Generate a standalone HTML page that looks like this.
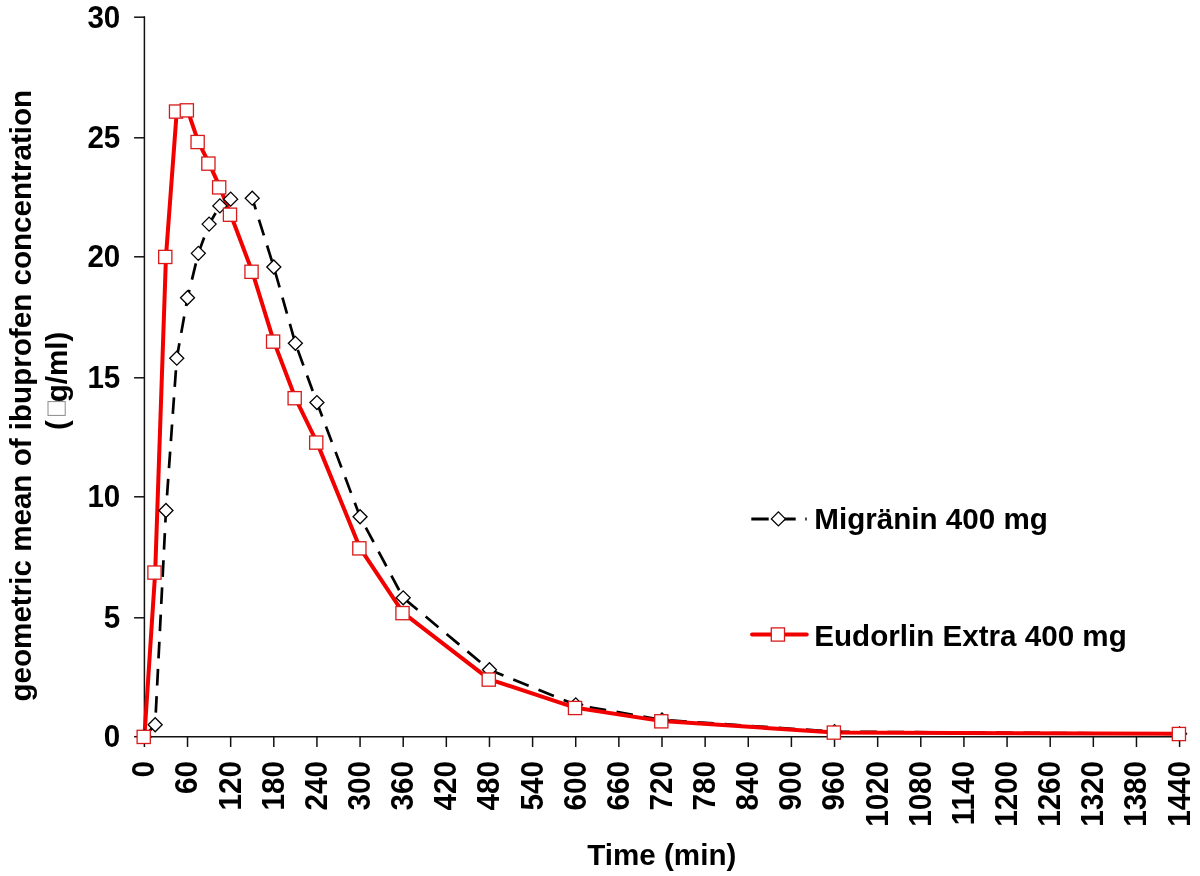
<!DOCTYPE html>
<html lang="en">
<head>
<meta charset="utf-8">
<title>Ibuprofen concentration chart</title>
<style>
html,body{margin:0;padding:0;background:#fff;}
body{width:1200px;height:876px;overflow:hidden;}
svg{display:block;}
text{font-family:"Liberation Sans",Arial,Helvetica,sans-serif;font-weight:bold;font-size:29.6px;fill:#000;}
</style>
</head>
<body>
<svg width="1200" height="876" viewBox="0 0 1200 876">
<rect x="0" y="0" width="1200" height="876" fill="#ffffff"/>

<g stroke="#111" stroke-width="1.5" fill="none">
<line x1="144.4" y1="16.35" x2="144.4" y2="737.45"/>
<line x1="143.65" y1="736.7" x2="1180.35" y2="736.7"/>
<line x1="134.1" y1="736.70" x2="144.4" y2="736.70"/>
<line x1="134.1" y1="617.80" x2="144.4" y2="617.80"/>
<line x1="134.1" y1="496.80" x2="144.4" y2="496.80"/>
<line x1="134.1" y1="377.80" x2="144.4" y2="377.80"/>
<line x1="134.1" y1="256.80" x2="144.4" y2="256.80"/>
<line x1="134.1" y1="137.80" x2="144.4" y2="137.80"/>
<line x1="134.1" y1="17.20" x2="144.4" y2="17.20"/>
<line x1="144.40" y1="736.7" x2="144.40" y2="747.0"/>
<line x1="187.53" y1="736.7" x2="187.53" y2="747.0"/>
<line x1="230.67" y1="736.7" x2="230.67" y2="747.0"/>
<line x1="273.80" y1="736.7" x2="273.80" y2="747.0"/>
<line x1="316.93" y1="736.7" x2="316.93" y2="747.0"/>
<line x1="360.07" y1="736.7" x2="360.07" y2="747.0"/>
<line x1="403.20" y1="736.7" x2="403.20" y2="747.0"/>
<line x1="446.33" y1="736.7" x2="446.33" y2="747.0"/>
<line x1="489.47" y1="736.7" x2="489.47" y2="747.0"/>
<line x1="532.60" y1="736.7" x2="532.60" y2="747.0"/>
<line x1="575.73" y1="736.7" x2="575.73" y2="747.0"/>
<line x1="618.87" y1="736.7" x2="618.87" y2="747.0"/>
<line x1="662.00" y1="736.7" x2="662.00" y2="747.0"/>
<line x1="705.13" y1="736.7" x2="705.13" y2="747.0"/>
<line x1="748.27" y1="736.7" x2="748.27" y2="747.0"/>
<line x1="791.40" y1="736.7" x2="791.40" y2="747.0"/>
<line x1="834.53" y1="736.7" x2="834.53" y2="747.0"/>
<line x1="877.67" y1="736.7" x2="877.67" y2="747.0"/>
<line x1="920.80" y1="736.7" x2="920.80" y2="747.0"/>
<line x1="963.93" y1="736.7" x2="963.93" y2="747.0"/>
<line x1="1007.07" y1="736.7" x2="1007.07" y2="747.0"/>
<line x1="1050.20" y1="736.7" x2="1050.20" y2="747.0"/>
<line x1="1093.33" y1="736.7" x2="1093.33" y2="747.0"/>
<line x1="1136.47" y1="736.7" x2="1136.47" y2="747.0"/>
<line x1="1179.60" y1="736.7" x2="1179.60" y2="747.0"/>
</g>
<g text-anchor="end">
<text transform="translate(120.3,747.10) scale(1,1.04)">0</text>
<text transform="translate(120.3,628.20) scale(1,1.04)">5</text>
<text transform="translate(120.3,507.20) scale(1,1.04)">10</text>
<text transform="translate(120.3,388.20) scale(1,1.04)">15</text>
<text transform="translate(120.3,267.20) scale(1,1.04)">20</text>
<text transform="translate(120.3,148.20) scale(1,1.04)">25</text>
<text transform="translate(120.3,27.60) scale(1,1.04)">30</text>
</g>
<g text-anchor="end">
<text transform="translate(154.30,761) rotate(-90) scale(1,1.04)">0</text>
<text transform="translate(197.43,761) rotate(-90) scale(1,1.04)">60</text>
<text transform="translate(240.57,761) rotate(-90) scale(1,1.04)">120</text>
<text transform="translate(283.70,761) rotate(-90) scale(1,1.04)">180</text>
<text transform="translate(326.83,761) rotate(-90) scale(1,1.04)">240</text>
<text transform="translate(369.97,761) rotate(-90) scale(1,1.04)">300</text>
<text transform="translate(413.10,761) rotate(-90) scale(1,1.04)">360</text>
<text transform="translate(456.23,761) rotate(-90) scale(1,1.04)">420</text>
<text transform="translate(499.37,761) rotate(-90) scale(1,1.04)">480</text>
<text transform="translate(542.50,761) rotate(-90) scale(1,1.04)">540</text>
<text transform="translate(585.63,761) rotate(-90) scale(1,1.04)">600</text>
<text transform="translate(628.77,761) rotate(-90) scale(1,1.04)">660</text>
<text transform="translate(671.90,761) rotate(-90) scale(1,1.04)">720</text>
<text transform="translate(715.03,761) rotate(-90) scale(1,1.04)">780</text>
<text transform="translate(758.17,761) rotate(-90) scale(1,1.04)">840</text>
<text transform="translate(801.30,761) rotate(-90) scale(1,1.04)">900</text>
<text transform="translate(844.43,761) rotate(-90) scale(1,1.04)">960</text>
<text transform="translate(887.57,761) rotate(-90) scale(1,1.04)">1020</text>
<text transform="translate(930.70,761) rotate(-90) scale(1,1.04)">1080</text>
<text transform="translate(973.83,761) rotate(-90) scale(1,1.04)">1140</text>
<text transform="translate(1016.97,761) rotate(-90) scale(1,1.04)">1200</text>
<text transform="translate(1060.10,761) rotate(-90) scale(1,1.04)">1260</text>
<text transform="translate(1103.23,761) rotate(-90) scale(1,1.04)">1320</text>
<text transform="translate(1146.37,761) rotate(-90) scale(1,1.04)">1380</text>
<text transform="translate(1189.50,761) rotate(-90) scale(1,1.04)">1440</text>
</g>
<text text-anchor="middle" x="661.8" y="865">Time (min)</text>
<text text-anchor="middle" transform="translate(31.0,395.7) rotate(-90)">geometric mean of ibuprofen concentration</text>
<text transform="translate(66.5,430) rotate(-90)">(</text>
<rect x="48" y="401.6" width="17.2" height="13.8" fill="#fff" stroke="#8a8a8a" stroke-width="1"/>
<text transform="translate(66.5,402.3) rotate(-90)">g/ml)</text>
<polyline points="144.40,736.70 155.18,724.71 165.97,510.51 176.75,358.19 187.53,297.74 198.32,253.37 209.10,224.10 219.88,205.88 230.67,199.16 252.23,198.20 273.80,267.04 295.37,343.32 316.93,402.57 360.07,516.74 403.20,597.82 489.47,669.78 575.73,704.80 662.00,719.91 834.53,731.66 1179.60,733.82" fill="none" stroke="#000" stroke-width="2.7" stroke-dasharray="16.6 10.6" stroke-dashoffset="-1" stroke-linejoin="round"/>
<polyline points="144.40,736.70 155.18,572.39 165.97,256.73 176.75,111.37 187.53,110.17 198.32,141.83 209.10,163.42 219.88,187.17 230.67,214.51 252.23,271.60 273.80,341.40 295.37,398.01 316.93,442.38 360.07,548.16 403.20,612.93 489.47,679.37 575.73,707.80 662.00,721.11 834.53,732.38 1179.60,733.82" fill="none" stroke="#f20000" stroke-width="4" stroke-linejoin="round"/>
<g fill="#fff" stroke="#000" stroke-width="1.3">
<path d="M137.40,736.70 L144.40,729.70 L151.40,736.70 L144.40,743.70 Z"/>
<path d="M148.18,724.71 L155.18,717.71 L162.18,724.71 L155.18,731.71 Z"/>
<path d="M158.97,510.51 L165.97,503.51 L172.97,510.51 L165.97,517.51 Z"/>
<path d="M169.75,358.19 L176.75,351.19 L183.75,358.19 L176.75,365.19 Z"/>
<path d="M180.53,297.74 L187.53,290.74 L194.53,297.74 L187.53,304.74 Z"/>
<path d="M191.32,253.37 L198.32,246.37 L205.32,253.37 L198.32,260.37 Z"/>
<path d="M202.10,224.10 L209.10,217.10 L216.10,224.10 L209.10,231.10 Z"/>
<path d="M212.88,205.88 L219.88,198.88 L226.88,205.88 L219.88,212.88 Z"/>
<path d="M223.67,199.16 L230.67,192.16 L237.67,199.16 L230.67,206.16 Z"/>
<path d="M245.23,198.20 L252.23,191.20 L259.23,198.20 L252.23,205.20 Z"/>
<path d="M266.80,267.04 L273.80,260.04 L280.80,267.04 L273.80,274.04 Z"/>
<path d="M288.37,343.32 L295.37,336.32 L302.37,343.32 L295.37,350.32 Z"/>
<path d="M309.93,402.57 L316.93,395.57 L323.93,402.57 L316.93,409.57 Z"/>
<path d="M353.07,516.74 L360.07,509.74 L367.07,516.74 L360.07,523.74 Z"/>
<path d="M396.20,597.82 L403.20,590.82 L410.20,597.82 L403.20,604.82 Z"/>
<path d="M482.47,669.78 L489.47,662.78 L496.47,669.78 L489.47,676.78 Z"/>
<path d="M568.73,704.80 L575.73,697.80 L582.73,704.80 L575.73,711.80 Z"/>
<path d="M655.00,719.91 L662.00,712.91 L669.00,719.91 L662.00,726.91 Z"/>
<path d="M827.53,731.66 L834.53,724.66 L841.53,731.66 L834.53,738.66 Z"/>
<path d="M1172.60,733.82 L1179.60,726.82 L1186.60,733.82 L1179.60,740.82 Z"/>
</g>
<g fill="#fff" stroke="#d91a1a" stroke-width="1.3">
<rect x="137.10" y="730.30" width="13.2" height="13.2"/>
<rect x="147.88" y="565.99" width="13.2" height="13.2"/>
<rect x="158.67" y="250.33" width="13.2" height="13.2"/>
<rect x="169.45" y="104.97" width="13.2" height="13.2"/>
<rect x="180.23" y="103.77" width="13.2" height="13.2"/>
<rect x="191.02" y="135.43" width="13.2" height="13.2"/>
<rect x="201.80" y="157.02" width="13.2" height="13.2"/>
<rect x="212.58" y="180.77" width="13.2" height="13.2"/>
<rect x="223.37" y="208.11" width="13.2" height="13.2"/>
<rect x="244.93" y="265.20" width="13.2" height="13.2"/>
<rect x="266.50" y="335.00" width="13.2" height="13.2"/>
<rect x="288.07" y="391.61" width="13.2" height="13.2"/>
<rect x="309.63" y="435.98" width="13.2" height="13.2"/>
<rect x="352.77" y="541.76" width="13.2" height="13.2"/>
<rect x="395.90" y="606.53" width="13.2" height="13.2"/>
<rect x="482.17" y="672.97" width="13.2" height="13.2"/>
<rect x="568.43" y="701.40" width="13.2" height="13.2"/>
<rect x="654.70" y="714.71" width="13.2" height="13.2"/>
<rect x="827.23" y="725.98" width="13.2" height="13.2"/>
<rect x="1172.30" y="727.42" width="13.2" height="13.2"/>
</g>
<line x1="751.3" y1="518.9" x2="806.7" y2="518.9" stroke="#000" stroke-width="3" stroke-dasharray="17.4 9.6"/>
<path d="M771.40,518.90 L778.40,511.90 L785.40,518.90 L778.40,525.90 Z" fill="#fff" stroke="#000" stroke-width="1.3"/>
<text x="814.3" y="528.6">Migränin 400 mg</text>
<line x1="752" y1="634.5" x2="806.8" y2="634.5" stroke="#f20000" stroke-width="3.8" stroke-linecap="round"/>
<rect x="771.30" y="627.90" width="13.2" height="13.2" fill="#fff" stroke="#d91a1a" stroke-width="1.3"/>
<text x="814.3" y="645.6">Eudorlin Extra 400 mg</text>
</svg>
</body>
</html>
